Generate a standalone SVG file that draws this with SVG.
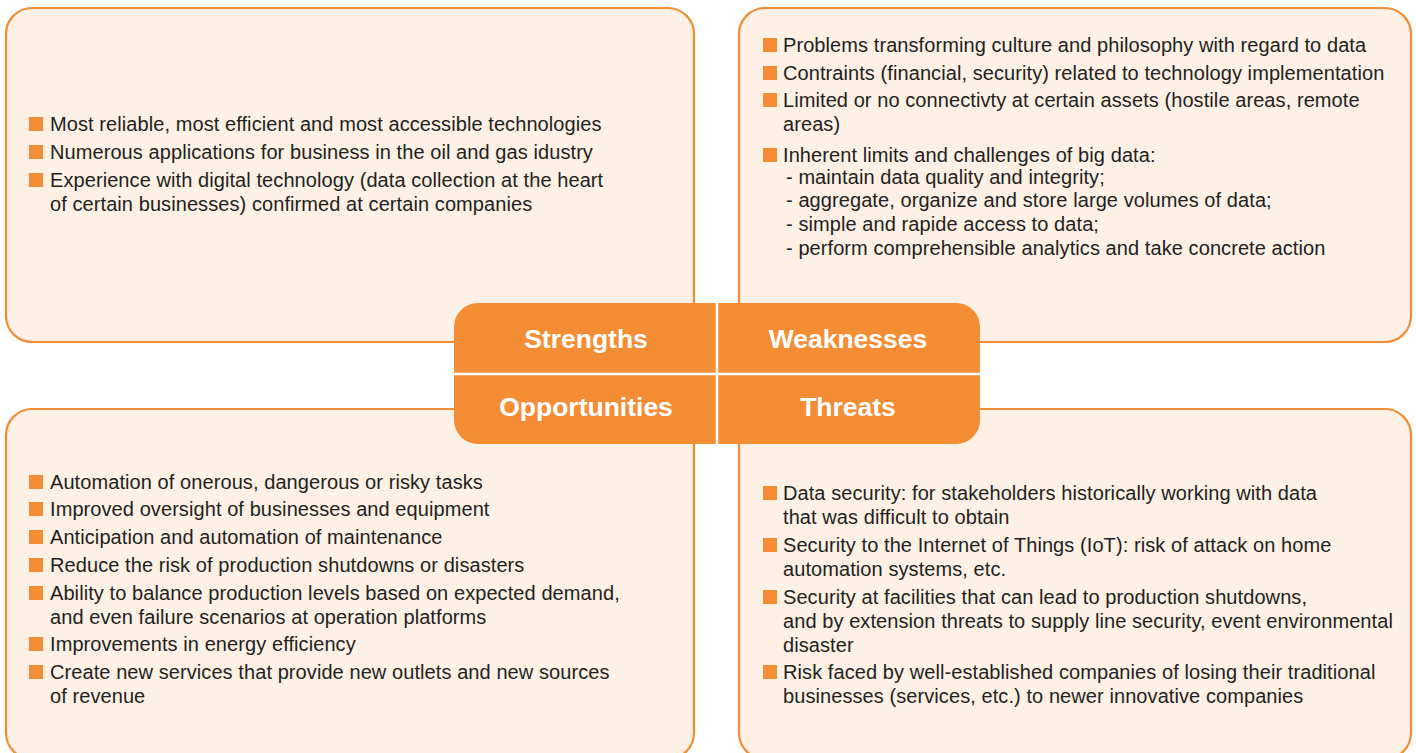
<svg xmlns="http://www.w3.org/2000/svg" width="1416" height="753" viewBox="0 0 1416 753">
  <style>
    .panel { fill: #fdf0e5; stroke: #f58d35; stroke-width: 2.2; }
    .body { font-family: "Liberation Sans", Arial, sans-serif; font-size: 20px; letter-spacing: 0.08px; fill: #231f20; }
    .bullet { fill: #f58d35; }
    .hub { fill: #f58d35; }
    .label { font-family: "Liberation Sans", Arial, sans-serif; font-size: 26.5px; font-weight: bold; fill: #ffffff; text-anchor: middle; }
    .divider { stroke: #ffffff; stroke-width: 2.5; }
  </style>
  <defs>
    <rect id="sq" width="14" height="14" class="bullet"/>
  </defs>
  <rect width="1416" height="753" fill="#ffffff"/>

  <!-- Strengths -->
  <g id="strengths">
    <rect class="panel" x="6" y="8" width="688" height="334" rx="26"/>
    <use href="#sq" x="29" y="117"/>
    <use href="#sq" x="29" y="145"/>
    <use href="#sq" x="29" y="173"/>
    <text class="body" x="50" y="131">Most reliable, most efficient and most accessible technologies</text>
    <text class="body" x="50" y="159">Numerous applications for business in the oil and gas idustry</text>
    <text class="body" x="50" y="187">Experience with digital technology (data collection at the heart</text>
    <text class="body" x="50" y="211">of certain businesses) confirmed at certain companies</text>
  </g>

  <!-- Weaknesses -->
  <g id="weaknesses">
    <rect class="panel" x="739" y="8" width="672" height="334" rx="26"/>
    <use href="#sq" x="763" y="38"/>
    <use href="#sq" x="763" y="66"/>
    <use href="#sq" x="763" y="93"/>
    <use href="#sq" x="763" y="148"/>
    <text class="body" x="783" y="52">Problems transforming culture and philosophy with regard to data</text>
    <text class="body" x="783" y="80">Contraints (financial, security) related to technology implementation</text>
    <text class="body" x="783" y="107">Limited or no connectivty at certain assets (hostile areas, remote</text>
    <text class="body" x="783" y="131">areas)</text>
    <text class="body" x="783" y="162">Inherent limits and challenges of big data:</text>
    <text class="body" x="786" y="184">- maintain data quality and integrity;</text>
    <text class="body" x="786" y="207">- aggregate, organize and store large volumes of data;</text>
    <text class="body" x="786" y="231">- simple and rapide access to data;</text>
    <text class="body" x="786" y="255">- perform comprehensible analytics and take concrete action</text>
  </g>

  <!-- Opportunities (panel runs slightly past the lower edge) -->
  <g id="opportunities">
    <rect class="panel" x="6" y="409" width="688" height="350" rx="26"/>
    <use href="#sq" x="29" y="475"/>
    <use href="#sq" x="29" y="502"/>
    <use href="#sq" x="29" y="530"/>
    <use href="#sq" x="29" y="558"/>
    <use href="#sq" x="29" y="586"/>
    <use href="#sq" x="29" y="637"/>
    <use href="#sq" x="29" y="665"/>
    <text class="body" x="50" y="489">Automation of onerous, dangerous or risky tasks</text>
    <text class="body" x="50" y="516">Improved oversight of businesses and equipment</text>
    <text class="body" x="50" y="544">Anticipation and automation of maintenance</text>
    <text class="body" x="50" y="572">Reduce the risk of production shutdowns or disasters</text>
    <text class="body" x="50" y="600">Ability to balance production levels based on expected demand,</text>
    <text class="body" x="50" y="624">and even failure scenarios at operation platforms</text>
    <text class="body" x="50" y="651">Improvements in energy efficiency</text>
    <text class="body" x="50" y="679">Create new services that provide new outlets and new sources</text>
    <text class="body" x="50" y="703">of revenue</text>
  </g>

  <!-- Threats (panel runs slightly past the lower edge) -->
  <g id="threats">
    <rect class="panel" x="739" y="409" width="672" height="350" rx="26"/>
    <use href="#sq" x="763" y="486"/>
    <use href="#sq" x="763" y="538"/>
    <use href="#sq" x="763" y="590"/>
    <use href="#sq" x="763" y="665"/>
    <text class="body" x="783" y="500">Data security: for stakeholders historically working with data</text>
    <text class="body" x="783" y="524">that was difficult to obtain</text>
    <text class="body" x="783" y="552">Security to the Internet of Things (IoT): risk of attack on home</text>
    <text class="body" x="783" y="576">automation systems, etc.</text>
    <text class="body" x="783" y="604">Security at facilities that can lead to production shutdowns,</text>
    <text class="body" x="783" y="628">and by extension threats to supply line security, event environmental</text>
    <text class="body" x="783" y="652">disaster</text>
    <text class="body" x="783" y="679">Risk faced by well-established companies of losing their traditional</text>
    <text class="body" x="783" y="703">businesses (services, etc.) to newer innovative companies</text>
  </g>

  <!-- Central SWOT hub -->
  <g id="hub">
    <rect class="hub" x="454" y="303" width="526" height="141" rx="24"/>
    <line class="divider" x1="717" y1="303" x2="717" y2="444"/>
    <line class="divider" x1="454" y1="374" x2="980" y2="374"/>
    <text class="label" x="586" y="348">Strengths</text>
    <text class="label" x="848" y="348">Weaknesses</text>
    <text class="label" x="586" y="416">Opportunities</text>
    <text class="label" x="848" y="416">Threats</text>
  </g>
</svg>
